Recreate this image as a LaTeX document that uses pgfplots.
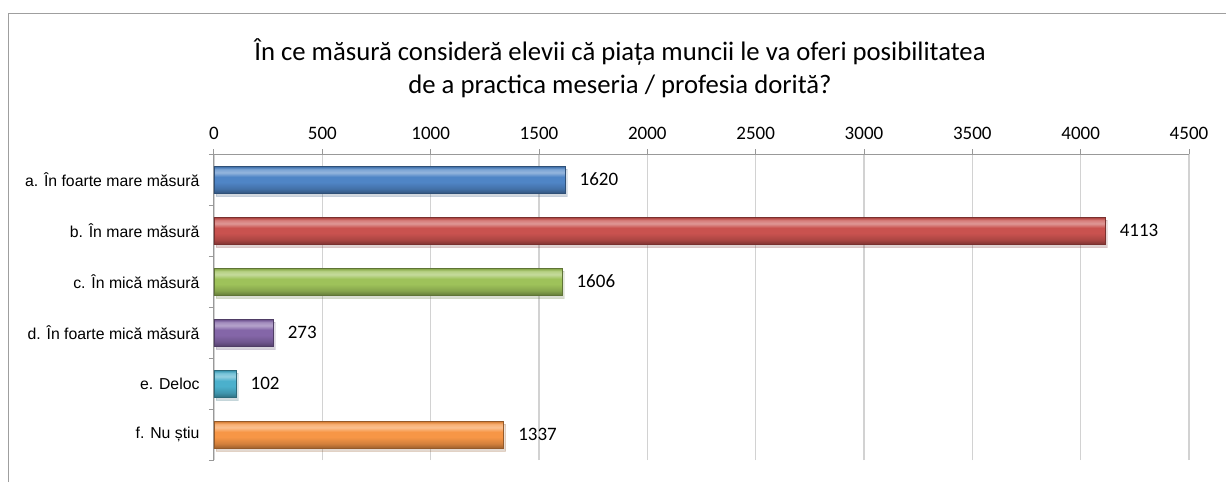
\documentclass[border=0pt]{standalone}
\usepackage{fontspec}
\setmainfont{Carlito}
\newfontfamily\arialf{Liberation Sans}
\usepackage{pgfplots}
\pgfplotsset{compat=1.18}
\usetikzlibrary{shadows}

\definecolor{cA}{HTML}{4F85C6}
\definecolor{cB}{HTML}{C9524F}
\definecolor{cC}{HTML}{9EC25A}
\definecolor{cD}{HTML}{8466A8}
\definecolor{cE}{HTML}{4BB0CC}
\definecolor{cF}{HTML}{F79646}

% bevel-like vertical shading, bar body spans 25bp..75bp
\newcommand\bevshade[2]{%
  \pgfdeclareverticalshading{#1}{100bp}{%
    color(0bp)=(#2!60!black); color(25bp)=(#2!60!black);
    color(27bp)=(#2!70!black); color(33bp)=(#2!85!black);
    color(45bp)=(#2); color(55bp)=(#2);
    color(63bp)=(#2!60!white); color(69bp)=(#2!75!white);
    color(73bp)=(#2!90!black); color(75bp)=(#2!70!black);
    color(100bp)=(#2!70!black)}}
\bevshade{bevA}{cA}
\bevshade{bevB}{cB}
\bevshade{bevC}{cC}
\bevshade{bevD}{cD}
\bevshade{bevE}{cE}
\bevshade{bevF}{cF}

\pgfplotsset{
  bev/.style 2 args={xbar, bar shift=0pt, bar width=27pt,
    draw=#2!60!black, line width=0.6pt, shading=#1,
    drop shadow={opacity=0.15, shadow xshift=2pt, shadow yshift=-3pt}},
}

\begin{document}
\begin{tikzpicture}[x=1pt,y=1pt]
\useasboundingbox (0,0) rectangle (1226,-482);
\draw[color=gray!75, line width=1pt] (8,-482) -- (8,-13) -- (1226,-13);
\node[anchor=base, font=\fontsize{26.7}{30}\selectfont] at (620,-60)
  {În ce măsură consideră elevii că piața muncii le va oferi posibilitatea};
\node[anchor=base, font=\fontsize{26.7}{30}\selectfont] at (620,-93)
  {de a practica meseria / profesia dorită?};
\begin{axis}[
  at={(214pt,-154pt)}, anchor=north west,
  scale only axis, width=975pt, height=306pt,
  xmin=0, xmax=4500, xtick={0,500,...,4500},
  ymin=-0.5, ymax=5.5,
  ytick={-0.5,0.5,...,5.5}, yticklabels={},
  extra y ticks={0,1,2,3,4,5},
  extra y tick labels={f. Nu știu, e. Deloc, d. În foarte mică măsură,
    c. În mică măsură, b. În mare măsură, a. În foarte mare măsură},
  extra y tick style={major tick length=0pt, grid=none},
  axis x line*=top, axis y line*=left,
  axis line style={gray!80, line width=1pt},
  tick style={gray!80, line width=1pt},
  tick align=outside, major tick length=5pt,
  xmajorgrids, major grid style={gray!35, line width=1.2pt},
  /pgf/number format/assume math mode=true,
  /pgf/number format/1000 sep={},
  xticklabel style={font=\fontsize{19}{21}\selectfont, yshift=6pt},
  yticklabel style={font=\arialf\fontsize{15.8}{18}\selectfont, xshift=-11pt},
  point meta=x,
  nodes near coords, nodes near coords align=horizontal,
  nodes near coords style={font=\fontsize{19}{21}\selectfont, anchor=west, xshift=11pt, black},
  clip=false,
]
\addplot[bev={bevA}{cA}] coordinates {(1620,5)};
\addplot[bev={bevB}{cB}] coordinates {(4113,4)};
\addplot[bev={bevC}{cC}] coordinates {(1606,3)};
\addplot[bev={bevD}{cD}] coordinates {(273,2)};
\addplot[bev={bevE}{cE}] coordinates {(102,1)};
\addplot[bev={bevF}{cF}] coordinates {(1337,0)};
\end{axis}
\end{tikzpicture}
\end{document}
